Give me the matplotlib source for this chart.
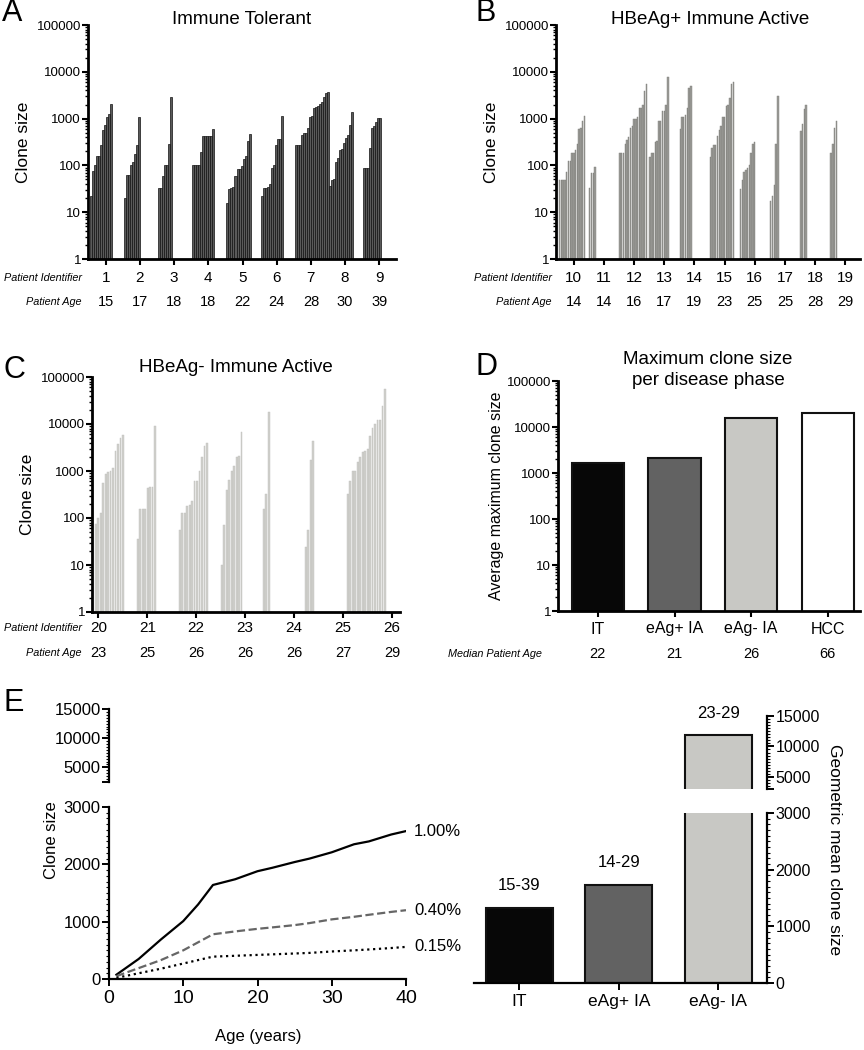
import matplotlib
matplotlib.use('Agg')
import matplotlib.pyplot as plt
import numpy as np
from matplotlib.ticker import FixedLocator, MultipleLocator, NullFormatter, FuncFormatter

REG = ['Liberation Sans', 'DejaVu Sans']
NARROW = ['Liberation Sans Narrow', 'Liberation Sans', 'DejaVu Sans']
plt.rcParams['font.family'] = REG

## Panel A - immune tolerant, clone sizes per patient
it_ids = [1, 2, 3, 4, 5, 6, 7, 8, 9]
it_ages = [15, 17, 18, 18, 22, 24, 28, 30, 39]
it_clones = [
    [22, 76, 100, 160, 160, 275, 560, 720, 1070, 1230, 2030],
    [20, 61, 61, 100, 117, 175, 270, 1070],
    [33, 33, 60, 100, 100, 285, 2960],
    [100, 100, 100, 100, 190, 430, 430, 430, 430, 430, 590],
    [16, 31, 33, 35, 60, 85, 85, 98, 140, 160, 335, 465],
    [22, 33, 33, 35, 40, 86, 100, 275, 360, 370, 1140],
    [275, 275, 275, 447, 490, 490, 620, 1070, 1140, 1700, 1800, 1900, 2030, 2300, 2870, 3470, 3650],
    [36, 49, 50, 121, 142, 215, 225, 298, 380, 447, 733, 1390],
    [87, 87, 87, 233, 620, 700, 865, 1020, 1040],
]

## Panel B - HBeAg+ immune active
pos_ids = [10, 11, 12, 13, 14, 15, 16, 17, 18, 19]
pos_ages = [14, 14, 16, 17, 19, 23, 25, 25, 28, 29]
pos_clones = [
    [49, 49, 49, 49, 74, 127, 127, 182, 182, 215, 288, 600, 624, 910, 1140],
    [33, 68, 68, 93],
    [182, 182, 182, 288, 351, 413, 624, 698, 985, 1000, 1100, 1660, 1700, 1960, 3970, 5500],
    [148, 180, 180, 320, 330, 910, 910, 1460, 1460, 1960, 7900],
    [594, 1070, 1070, 1200, 1660, 4500, 5000],
    [150, 233, 275, 275, 428, 572, 680, 1100, 1100, 1900, 2000, 2700, 5500, 6000],
    [31, 49, 71, 80, 88, 103, 183, 290, 316],
    [17.6, 21.8, 38.5, 285, 3050],
    [550, 775, 1620, 1940],
    [183, 290, 640, 910],
]

## Panel C - HBeAg- immune active
neg_ids = [20, 21, 22, 23, 24, 25, 26]
neg_ages = [23, 25, 26, 26, 26, 27, 29]
neg_clones = [
    [75, 100, 128, 556, 860, 930, 980, 1150, 2620, 3830, 5000, 5800],
    [36, 155, 155, 155, 435, 450, 450, 9200],
    [55, 128, 128, 183, 190, 226, 620, 620, 1000, 2000, 3460, 3960],
    [10, 72, 400, 650, 980, 1260, 1950, 2100, 6620],
    [155, 330, 18000],
    [24, 56, 1690, 4270],
    [330, 620, 980, 980, 1590, 2000, 2500, 2620, 2990, 5640, 8180, 10100, 12200, 12200, 23800, 55600],
]

## Panel D - max clone size per phase
phases = ['IT', 'eAg+ IA', 'eAg- IA', 'HCC']
phase_max = [1650, 2100, 15500, 20000]
phase_median_age = [22, 21, 26, 66]
phase_colors = ['#070707', '#626262', '#c8c8c4', '#ffffff']

## Panel E - modelled clone size vs age
age_years = [1, 4, 7, 10, 12, 14, 17, 20, 22, 25, 27, 30, 33, 35, 38, 40]
clone_1pct = [75, 350, 690, 1010, 1300, 1640, 1740, 1880, 1940, 2040, 2100, 2210, 2350, 2400, 2520, 2580]
clone_04pct = [50, 190, 330, 500, 640, 780, 830, 875, 900, 940, 975, 1040, 1085, 1120, 1170, 1200]
clone_015pct = [20, 100, 180, 270, 330, 390, 405, 420, 430, 445, 455, 480, 500, 515, 540, 560]
geo_groups = ['IT', 'eAg+ IA', 'eAg- IA']
geo_mean = [1325, 1735, 11850]
geo_ranges = ['15-39', '14-29', '23-29']

W, H = 864, 1050
fig = plt.figure(figsize=(W / 100, H / 100), dpi=100)


def rect(left, right, top, bottom):
    return [left / W, 1 - bottom / H, (right - left) / W, (bottom - top) / H]


def style_log(ax):
    ax.set_yscale('log')
    ax.set_ylim(1, 1e5)
    ax.yaxis.set_major_locator(FixedLocator([1, 10, 100, 1000, 10000, 100000]))
    minors = [m * 10 ** e for e in range(5) for m in range(2, 10)]
    ax.yaxis.set_minor_locator(FixedLocator(minors))
    ax.yaxis.set_minor_formatter(NullFormatter())
    ax.yaxis.set_major_formatter(FuncFormatter(lambda v, p: '%d' % v))
    for s in ['top', 'right']:
        ax.spines[s].set_visible(False)
    for s in ['left', 'bottom']:
        ax.spines[s].set_linewidth(2)
    ax.tick_params(axis='y', which='major', length=4, width=1.5, labelsize=9.5, pad=1)
    ax.tick_params(axis='y', which='minor', length=2.5, width=1)
    ax.tick_params(axis='x', length=4, width=1.5, labelbottom=False)


def clone_panel(r, clones, face, edge, lw, frac, start, xlim):
    ax = fig.add_axes(r)
    pitch = 1 / 17.0
    for k, vals in enumerate(clones):
        xs = k + start + pitch * (np.arange(len(vals)) + 0.5)
        ax.bar(xs, np.array(vals) - 1, bottom=1, width=pitch * frac,
               color=face, edgecolor=edge, linewidth=lw)
    style_log(ax)
    ax.set_xlim(*xlim)
    ax.set_ylabel('Clone size', fontsize=12.5, labelpad=4)
    return ax


def text_row(ax, xs, labels, dy, name, name_dx, fs=10):
    for x, lab in zip(xs, labels):
        ax.annotate(str(lab), xy=(x, 0), xycoords=('data', 'axes fraction'),
                    xytext=(0, -dy), textcoords='offset pixels',
                    ha='center', va='center', fontsize=fs, family=NARROW)
    ax.annotate(name, xy=(0, 0), xycoords='axes fraction',
                xytext=(-name_dx, -dy), textcoords='offset pixels',
                ha='right', va='center', fontsize=7.8, style='italic')


# ---- A
axA = clone_panel(rect(88, 396, 25, 259), it_clones, '#5a5a5a', '#111111', 0.5, 1.0, -0.47, (-0.52, 8.49))
axA.set_xticks(range(len(it_ids)))
text_row(axA, range(len(it_ids)), it_ids, 19, 'Patient Identifier', 6, fs=11)
text_row(axA, range(len(it_ids)), it_ages, 43, 'Patient Age', 6, fs=10.5)
fig.text(242 / W, 1 - 19 / H, 'Immune Tolerant', ha='center', va='center', fontsize=13.5)

# ---- B
axB = clone_panel(rect(556, 860, 25, 259), pos_clones, '#9c9c98', '#7a7a76', 0.3, 0.8, -0.5, (-0.59, 9.49))
axB.set_xticks(range(len(pos_ids)))
text_row(axB, range(len(pos_ids)), pos_ids, 19, 'Patient Identifier', 4, fs=11)
text_row(axB, range(len(pos_ids)), pos_ages, 43, 'Patient Age', 4, fs=10.5)
fig.text(710 / W, 1 - 19 / H, 'HBeAg+ Immune Active', ha='center', va='center', fontsize=13.5)

# ---- C
axC = clone_panel(rect(92, 400, 377, 612), neg_clones, '#d0d0cc', '#c0c0bc', 0.3, 0.7, -0.5, (-0.56, 6.77))
c_lab = np.linspace(-0.41, 6.58, len(neg_ids))
axC.set_xticks(c_lab)
text_row(axC, c_lab, neg_ids, 16, 'Patient Identifier', 10, fs=11)
text_row(axC, c_lab, neg_ages, 41, 'Patient Age', 10, fs=10.5)
fig.text(236 / W, 1 - 368 / H, 'HBeAg- Immune Active', ha='center', va='center', fontsize=13.5)

# ---- D
axD = fig.add_axes(rect(558, 860, 381, 611))
axD.bar(range(len(phases)), phase_max, width=0.68, color=phase_colors, edgecolor='#111111', linewidth=1.5)
style_log(axD)
axD.set_xlim(-0.52, 3.42)
axD.set_xticks(range(len(phases)))
axD.set_ylabel('Average maximum clone size', fontsize=11.5, labelpad=2)
text_row(axD, range(len(phases)), phases, 18, '', 0, fs=11.5)
text_row(axD, range(len(phases)), phase_median_age, 43, 'Median Patient Age', 16, fs=10.5)
fig.text(708 / W, 1 - 370 / H, 'Maximum clone size\nper disease phase', ha='center', va='center',
         fontsize=13.5, linespacing=1.25)

# ---- E left (broken axis)
axEt = fig.add_axes(rect(109, 406, 709, 782))
axEb = fig.add_axes(rect(109, 406, 807, 979))
styles = [('-', '#000000'), ('--', '#666666'), (':', '#000000')]
for b, c in zip([clone_1pct, clone_04pct, clone_015pct], styles):
    axEb.plot(age_years, b, linestyle=c[0], color=c[1], lw=1.6)
for ax in (axEt, axEb):
    ax.set_xlim(0, 40)
    for s in ['top', 'right']:
        ax.spines[s].set_visible(False)
    ax.spines['left'].set_linewidth(1.6)
    ax.spines['bottom'].set_linewidth(1.6)
    ax.tick_params(axis='y', which='major', length=5, width=1.4, labelsize=12, pad=1)
    ax.tick_params(axis='y', which='minor', length=2.5, width=0.8)
axEt.set_ylim(2500, 15000)
axEt.spines['bottom'].set_visible(False)
axEt.set_xticks([])
axEt.yaxis.set_major_locator(FixedLocator([2500, 5000, 10000, 15000]))
axEt.yaxis.set_major_formatter(FuncFormatter(lambda v, p: '' if v < 5000 else '%d' % v))
axEt.yaxis.set_minor_locator(MultipleLocator(500))
axEb.set_ylim(0, 3000)
axEb.yaxis.set_major_locator(MultipleLocator(1000))
axEb.yaxis.set_minor_locator(MultipleLocator(100))
axEb.set_xticks([0, 10, 20, 30, 40])
axEb.tick_params(axis='x', length=5, width=1.4, labelsize=14, pad=3)
for lab, vals in zip(['1.00%', '0.40%', '0.15%'], [clone_1pct, clone_04pct, clone_015pct]):
    axEb.annotate(lab, xy=(age_years[-1], vals[-1]), xytext=(8, 0), textcoords='offset pixels',
                  ha='left', va='center', fontsize=12, annotation_clip=False)
fig.text(52 / W, 1 - 840 / H, 'Clone size', rotation=90, ha='center', va='center', fontsize=12)
fig.text(258 / W, 1 - 1037 / H, 'Age (years)', ha='center', va='center', fontsize=12)

# ---- E right (broken axis, right-hand y axis)
axRt = fig.add_axes(rect(474, 767, 716, 789))
axRb = fig.add_axes(rect(474, 767, 813, 983))
for ax in (axRt, axRb):
    ax.bar(range(len(geo_groups)), geo_mean, width=0.67, color=phase_colors[:3],
           edgecolor='#111111', linewidth=1.5)
    ax.set_xlim(-0.455, 2.49)
    ax.yaxis.tick_right()
    for s in ['top', 'left']:
        ax.spines[s].set_visible(False)
    ax.spines['right'].set_linewidth(1.6)
    ax.spines['bottom'].set_linewidth(1.6)
    ax.tick_params(axis='y', which='major', length=5, width=1.4, labelsize=11.5, pad=1)
    ax.tick_params(axis='y', which='minor', length=2.5, width=0.8)
axRt.set_ylim(3000, 15000)
axRt.spines['bottom'].set_visible(False)
axRt.set_xticks([])
axRt.yaxis.set_major_locator(FixedLocator([3000, 5000, 10000, 15000]))
axRt.yaxis.set_major_formatter(FuncFormatter(lambda v, p: '' if v < 5000 else '%d' % v))
axRt.yaxis.set_minor_locator(MultipleLocator(500))
axRb.set_ylim(0, 3000)
axRb.yaxis.set_major_locator(MultipleLocator(1000))
axRb.yaxis.set_minor_locator(MultipleLocator(100))
axRb.set_xticks(range(len(geo_groups)))
axRb.set_xticklabels(geo_groups)
axRb.tick_params(axis='x', length=5, width=1.4, labelsize=12.5, pad=3)
for k, (v, lab) in enumerate(zip(geo_mean, geo_ranges)):
    ax = axRt if v > 3000 else axRb
    ax.annotate(lab, xy=(k, v), xytext=(0, 22), textcoords='offset pixels',
                ha='center', va='center', fontsize=12, annotation_clip=False)
fig.text(835 / W, 1 - 850 / H, 'Geometric mean clone size', rotation=270, ha='center', va='center', fontsize=12.5)

# ---- panel letters
for lab, x, y in [('A', 12, 13), ('B', 486, 13), ('C', 14, 370), ('D', 487, 367), ('E', 14, 703)]:
    fig.text(x / W, 1 - y / H, lab, ha='center', va='center', fontsize=22)

plt.savefig('out.png', dpi=100, facecolor='white')
